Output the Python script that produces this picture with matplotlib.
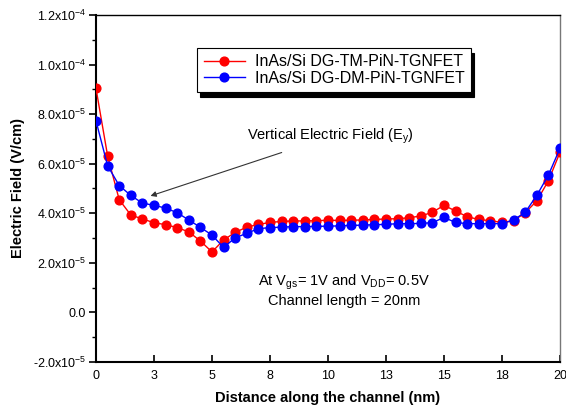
import matplotlib
matplotlib.use("Agg")
import matplotlib.pyplot as plt
from matplotlib.ticker import FixedLocator, MultipleLocator

plt.rcParams['font.family'] = ['Liberation Sans', 'DejaVu Sans']
plt.rcParams['mathtext.fontset'] = 'custom'
plt.rcParams['mathtext.rm'] = 'Liberation Sans'

distance = [0.0, 0.5, 1.0, 1.5, 2.0, 2.5, 3.0, 3.5, 4.0, 4.5, 5.0, 5.5, 6.0, 6.5, 7.0,
            7.5, 8.0, 8.5, 9.0, 9.5, 10.0, 10.5, 11.0, 11.5, 12.0, 12.5, 13.0, 13.5,
            14.0, 14.5, 15.0, 15.5, 16.0, 16.5, 17.0, 17.5, 18.0, 18.5, 19.0, 19.5, 20.0]

# values in units of 1e-5
tm_field = [9.04, 6.32, 4.55, 3.93, 3.77, 3.62, 3.54, 3.42, 3.25, 2.88, 2.44, 2.92, 3.23,
            3.44, 3.55, 3.63, 3.67, 3.69, 3.69, 3.70, 3.72, 3.71, 3.72, 3.73, 3.75, 3.77,
            3.78, 3.82, 3.89, 4.04, 4.32, 4.09, 3.86, 3.75, 3.70, 3.63, 3.70, 4.02, 4.50,
            5.31, 6.46]
dm_field = [7.73, 5.92, 5.12, 4.72, 4.41, 4.32, 4.21, 4.02, 3.73, 3.43, 3.12, 2.62, 3.01,
            3.19, 3.38, 3.42, 3.44, 3.46, 3.46, 3.47, 3.48, 3.49, 3.51, 3.52, 3.54, 3.55,
            3.58, 3.58, 3.59, 3.62, 3.83, 3.63, 3.58, 3.58, 3.58, 3.58, 3.73, 4.04, 4.72,
            5.54, 6.62]

x_ticks = [0, 2.5, 5, 7.5, 10, 12.5, 15, 17.5, 20]
x_tick_labels = ["0", "3", "5", "8", "10", "13", "15", "18", "20"]
y_ticks = [-2.0, 0.0, 2.0, 4.0, 6.0, 8.0, 10.0, 12.0]
y_tick_labels = [r"-2.0x10$^{-5}$", "0.0", r"2.0x10$^{-5}$", r"4.0x10$^{-5}$",
                 r"6.0x10$^{-5}$", r"8.0x10$^{-5}$", r"1.0x10$^{-4}$", r"1.2x10$^{-4}$"]

fig = plt.figure(figsize=(5.66, 4.17), dpi=100)
ax = fig.add_axes([0.1696, 0.132, 0.8198, 0.832])

ax.plot(distance, tm_field, '-o', color='#ff0000', lw=1.0, markersize=6.3,
        label='InAs/Si DG-TM-PiN-TGNFET', zorder=3)
ax.plot(distance, dm_field, '-o', color='#0000ff', lw=1.0, markersize=6.3,
        label='InAs/Si DG-DM-PiN-TGNFET', zorder=4)

ax.set_xlim(0, 20)
ax.set_ylim(-2.0, 12.0)
ax.xaxis.set_major_locator(FixedLocator(x_ticks))
ax.set_xticklabels(x_tick_labels, fontsize=9)
ax.yaxis.set_major_locator(FixedLocator(y_ticks))
ax.set_yticklabels(y_tick_labels, fontsize=9)
ax.yaxis.set_minor_locator(MultipleLocator(1.0))
ax.tick_params(axis='x', direction='in', length=5, width=1.2, pad=6)
ax.tick_params(axis='y', which='major', direction='out', length=5, width=1.2, pad=2)
ax.tick_params(axis='y', which='minor', direction='out', length=3, width=1.0)
ax.spines['left'].set_linewidth(1.5)
ax.spines['bottom'].set_linewidth(1.5)
ax.spines['top'].set_linewidth(1.0)
ax.spines['right'].set_linewidth(1.0)
ax.spines['right'].set_color('#777777')

ax.set_xlabel('Distance along the channel (nm)', fontsize=10.5, fontweight='bold', labelpad=6)
ax.set_ylabel('Electric Field (V/cm)', fontsize=10.5, fontweight='bold', labelpad=6)

leg = ax.legend(loc='upper left', bbox_to_anchor=(0.218, 0.905), fontsize=11.5,
                frameon=True, fancybox=False,
                shadow={'color': 'black', 'alpha': 1.0, 'ox': 2, 'oy': -3.5},
                edgecolor='black', handlelength=2.6, handletextpad=0.6,
                borderpad=0.4, labelspacing=0.1, borderaxespad=0)
leg.get_frame().set_linewidth(0.8)

ax.annotate(r'Vertical Electric Field (E$_{\mathrm{y}}$)', xy=(2.35, 4.7), xytext=(6.5, 7.1),
            fontsize=10.5, ha='left', va='center',
            arrowprops=dict(arrowstyle='-|>', color='#333333', lw=0.8,
                            shrinkA=8, shrinkB=0, mutation_scale=8))

ax.text(10.7, 0.9, 'At V$_{\\mathrm{gs}}$= 1V and V$_{\\mathrm{DD}}$= 0.5V\nChannel length = 20nm',
        fontsize=10.5, ha='center', va='center', linespacing=1.25)

fig.savefig('out.png', dpi=100)
